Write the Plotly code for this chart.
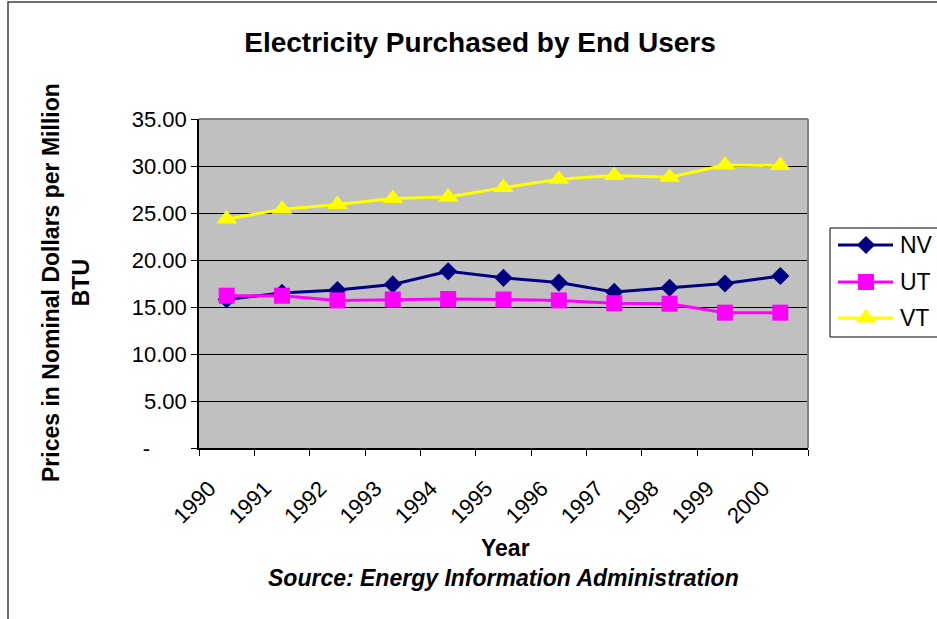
import plotly.graph_objects as go

years = ["1990", "1991", "1992", "1993", "1994", "1995", "1996", "1997", "1998", "1999", "2000"]
nv = [15.8, 16.5, 16.8, 17.4, 18.8, 18.1, 17.6, 16.6, 17.05, 17.5, 18.3]
ut = [16.2, 16.2, 15.7, 15.8, 15.85, 15.8, 15.7, 15.4, 15.35, 14.4, 14.4]
vt = [24.35, 25.4, 25.9, 26.55, 26.7, 27.7, 28.6, 29.0, 28.8, 30.1, 30.05]
series_names = ["NV", "UT", "VT"]
ytick_vals = [0, 5, 10, 15, 20, 25, 30, 35]
ytick_text = ["-" + "\u00a0" * 6, "5.00", "10.00", "15.00", "20.00", "25.00", "30.00", "35.00"]

FONT = "Arial, Liberation Sans, sans-serif"
colors = ["#000080", "#FF00FF", "#FFFF00"]
symbols = ["diamond", "square", "triangle-up"]
msizes = [14, 16, 18]

fig = go.Figure()
for name, vals, c, s, ms in zip(series_names, [nv, ut, vt], colors, symbols, msizes):
    fig.add_trace(go.Scatter(x=years, y=vals, name=name, mode="lines+markers",
                             showlegend=False, cliponaxis=False,
                             line=dict(color=c, width=3),
                             marker=dict(symbol=s, size=ms, color=c)))

L, T, B = 199, 119, 619 - 448
PR = 808  # plot right edge (px)
W, H = 937 - L, 619 - T - B

def px(x):
    return (x - L) / W

def py(y):
    return (619 - B - y) / H

# ---- manual legend (own small axes in the right margin) ----
LEG_L, LEG_T, LEG_B = 830, 228, 337
leg_rows = [245, 282, 318]
for name, c, s, ms, yy in zip(series_names, colors, symbols, msizes, leg_rows):
    fig.add_trace(go.Scatter(x=[838, 866, 893], y=[yy, yy, yy], mode="lines",
                             xaxis="x2", yaxis="y2", showlegend=False, hoverinfo="skip",
                             line=dict(color=c, width=3), cliponaxis=False))
    fig.add_trace(go.Scatter(x=[866], y=[yy], mode="markers", xaxis="x2", yaxis="y2",
                             showlegend=False, hoverinfo="skip", cliponaxis=False,
                             marker=dict(symbol=s, size=ms, color=c)))
    fig.add_annotation(text=name, xref="x2", yref="y2", x=898, y=yy, showarrow=False,
                       xanchor="left", yanchor="middle", font=dict(size=23))

fig.update_layout(
    width=937, height=619,
    margin=dict(l=L, r=0, t=T, b=B),
    paper_bgcolor="white", plot_bgcolor="rgba(0,0,0,0)",
    font=dict(family=FONT, color="black", size=22),
    showlegend=False,
    title=dict(text="<b>Electricity Purchased by End Users</b>", x=480 / 937, xanchor="center",
               xref="container", y=1 - 42 / 619, yanchor="middle", font=dict(size=28)),
    xaxis=dict(type="category", range=[-0.5, 10.5], tickangle=-45, ticks="outside",
               tickvals=years, ticktext=[y + "\u00a0" * 4 for y in years],
               domain=[0, px(PR)],
               tickson="boundaries", ticklen=6, tickcolor="black",
               showline=True, linecolor="black", linewidth=1.5, mirror=False,
               showgrid=False, tickfont=dict(size=22)),
    yaxis=dict(range=[0, 35], tickvals=ytick_vals, ticktext=ytick_text,
               ticks="outside", ticklen=6, tickcolor="black",
               showline=True, linecolor="black", linewidth=1.5,
               showgrid=True, gridcolor="black", gridwidth=1, zeroline=False,
               tickfont=dict(size=22)),
    xaxis2=dict(domain=[px(LEG_L), 1], range=[LEG_L, 937], visible=False, fixedrange=True,
                anchor="y2"),
    yaxis2=dict(domain=[py(LEG_B), py(LEG_T)], range=[LEG_B, LEG_T], visible=False,
                fixedrange=True, anchor="x2"),
)

# chart frame
fig.add_shape(type="rect", xref="paper", yref="paper", x0=px(8), x1=px(960),
              y0=py(640), y1=py(2), line=dict(color="#404040", width=1.5), layer="below")
# gray plot area
fig.add_shape(type="rect", xref="paper", yref="paper", x0=0, x1=px(PR), y0=0, y1=1,
              fillcolor="#C0C0C0", line=dict(width=0), layer="below")
# plot area right/top border (gray)
fig.add_shape(type="line", xref="paper", yref="paper", x0=0, x1=px(PR), y0=1, y1=1,
              line=dict(color="#808080", width=2))
fig.add_shape(type="line", xref="paper", yref="paper", x0=px(PR), x1=px(PR), y0=0, y1=1,
              line=dict(color="#808080", width=2))
# legend box
fig.add_shape(type="rect", xref="paper", yref="paper", x0=px(LEG_L), x1=px(960),
              y0=py(LEG_B), y1=py(LEG_T), line=dict(color="black", width=1), layer="below")

fig.add_annotation(text="<b>Prices in Nominal Dollars per Million<br>BTU</b>",
                   xref="paper", yref="paper", x=px(66), y=py(283), showarrow=False,
                   textangle=-90, xanchor="center", yanchor="middle",
                   font=dict(size=23))
fig.add_annotation(text="<b>Year</b>", xref="paper", yref="paper", x=px(505), y=py(548),
                   showarrow=False, xanchor="center", yanchor="middle", font=dict(size=23))
fig.add_annotation(text="<b><i>Source: Energy Information Administration</i></b>",
                   xref="paper", yref="paper", x=px(503), y=py(578), showarrow=False,
                   xanchor="center", yanchor="middle", font=dict(size=23))

fig.write_html("out.html")
